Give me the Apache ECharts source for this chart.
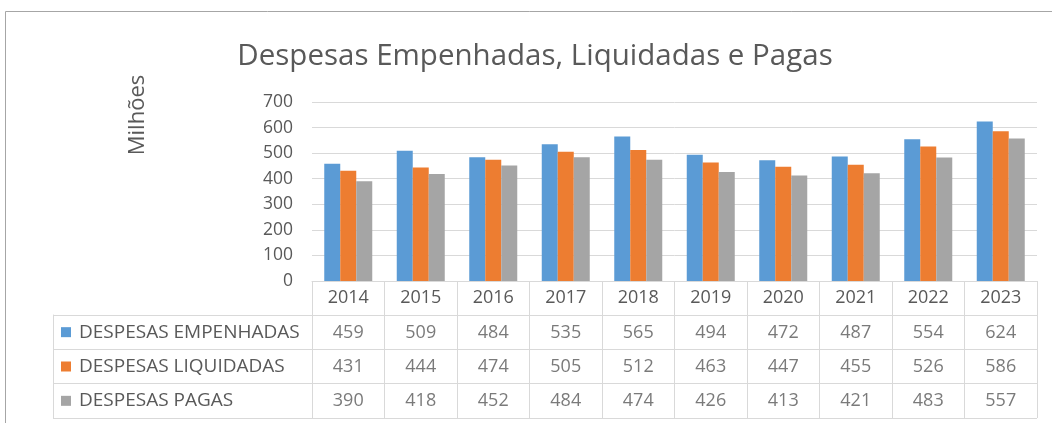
<!DOCTYPE html>
<html>
<head>
<meta charset="utf-8">
<script src="https://cdn.jsdelivr.net/npm/echarts@6/dist/echarts.min.js"></script>
<style>html,body{margin:0;padding:0;background:#fff}#c{width:1052px;height:423px}</style>
</head>
<body>
<div id="c"></div>
<script>
const categories = ['2014','2015','2016','2017','2018','2019','2020','2021','2022','2023'];
const seriesNames = ['DESPESAS EMPENHADAS','DESPESAS LIQUIDADAS','DESPESAS PAGAS'];
const empenhadas = [459,509,484,535,565,494,472,487,554,624];
const liquidadas = [431,444,474,505,512,463,447,455,526,586];
const pagas = [390,418,452,484,474,426,413,421,483,557];
const yTicks = [0,100,200,300,400,500,600,700];
const colors = ['#5B9BD5','#ED7D31','#A5A5A5'];

const values = [empenhadas, liquidadas, pagas];
const FONT = 'Open Sans';
const TXT = '#595959';
const LINE = '#d9d9d9';

const tableData = [];
values.forEach((arr, i) => arr.forEach((v, j) => tableData.push([j, i + 1, v])));

const rich = { t: { fontSize: 19, color: TXT, fontFamily: FONT, padding: [0, 0, 0, 8] } };
colors.forEach((c, i) => { rich['s' + i] = { width: 10, height: 10, backgroundColor: c }; });

const chart = echarts.init(document.getElementById('c'), null, { renderer: 'canvas' });
chart.setOption({
  animation: false,
  textStyle: { fontFamily: FONT },
  graphic: [
    { type: 'rect', shape: { x: 5.5, y: 11.5, width: 1200, height: 600 }, style: { fill: 'none', stroke: '#a6a6a6', lineWidth: 1 }, silent: true },
    { type: 'text', x: 535, y: 57, style: { text: 'Despesas Empenhadas, Liquidadas e Pagas', fontSize: 29.5, fontFamily: FONT, fill: TXT, align: 'center', verticalAlign: 'middle' } },
    { type: 'text', x: 138, y: 115, rotation: Math.PI / 2, style: { text: 'Milhões', fontSize: 22, fontFamily: FONT, fill: TXT, align: 'center', verticalAlign: 'middle' } }
  ],
  grid: [
    { left: 312, right: 15, top: 102, height: 179 },
    { left: 53, right: 15, top: 315, bottom: 5 },
    { left: 312, right: 15, top: 281, bottom: 5 }
  ],
  xAxis: [
    { type: 'category', gridIndex: 0, data: categories,
      axisLine: { lineStyle: { color: LINE } }, axisTick: { show: false },
      axisLabel: { fontSize: 18, color: TXT, margin: 8, fontFamily: FONT } },
    { type: 'value', gridIndex: 1, show: false },
    { type: 'category', gridIndex: 2, data: categories,
      axisLine: { show: false }, axisTick: { show: false }, axisLabel: { show: false },
      splitLine: { show: true, lineStyle: { color: LINE } } }
  ],
  yAxis: [
    { type: 'value', gridIndex: 0, min: 0, max: 700, interval: 100,
      axisLabel: { fontSize: 17.5, color: TXT, margin: 19, fontFamily: FONT, formatter: v => yTicks.includes(v) ? String(v) : '' },
      splitLine: { lineStyle: { color: LINE } } },
    { type: 'category', gridIndex: 1, data: seriesNames, inverse: true,
      axisLine: { show: true, lineStyle: { color: LINE } }, axisTick: { show: false },
      splitLine: { show: true, lineStyle: { color: LINE } },
      axisLabel: { inside: true, margin: 8, formatter: (v, i) => '{s' + i + '|}{t|' + v + '}', rich: rich } },
    { type: 'category', gridIndex: 2, data: [''].concat(seriesNames), inverse: true, show: false }
  ],
  series: [
    { name: seriesNames[0], type: 'bar', data: empenhadas, barWidth: 16, barGap: '0%', itemStyle: { color: colors[0] } },
    { name: seriesNames[1], type: 'bar', data: liquidadas, barWidth: 16, barGap: '0%', itemStyle: { color: colors[1] } },
    { name: seriesNames[2], type: 'bar', data: pagas, barWidth: 16, barGap: '0%', itemStyle: { color: colors[2] } },
    { type: 'scatter', xAxisIndex: 2, yAxisIndex: 2, data: tableData, symbolSize: 1,
      itemStyle: { color: 'rgba(0,0,0,0)' },
      label: { show: true, position: 'inside', formatter: p => String(p.value[2]), fontSize: 18, color: TXT, fontFamily: FONT } }
  ]
});
</script>
</body>
</html>
